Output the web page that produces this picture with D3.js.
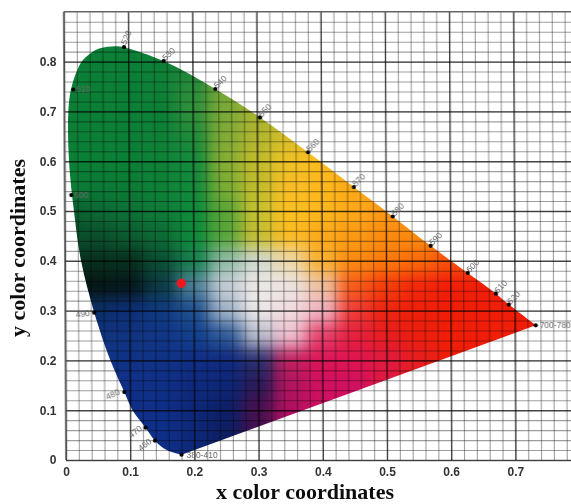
<!DOCTYPE html>
<html lang="en">
<head>
  <meta charset="UTF-8">
  <title>CIE chromaticity diagram</title>
  <style>
    html, body { margin: 0; padding: 0; background: #fff; overflow: hidden; }
    svg { display: block; }
    .tick-label text { font-family: "Liberation Sans", Arial, sans-serif; font-weight: bold; font-size: 12px; fill: #333; }
    .axis-title { font-family: "Liberation Serif", "Times New Roman", serif; font-weight: bold; font-size: 22px; fill: #111; }
    .wl-label { font-family: "Liberation Sans", Arial, sans-serif; font-size: 8.5px; fill: #666; }
    .grid .domain { display: none; }
  </style>
</head>
<body>
  <svg class="chart" width="571" height="504"></svg>
  <script src="https://cdn.jsdelivr.net/npm/d3@7"></script>
  <script>
    var w = 571, h = 504;

    var xTicks = [0, 0.1, 0.2, 0.3, 0.4, 0.5, 0.6, 0.7];
    var yTicks = [0, 0.1, 0.2, 0.3, 0.4, 0.5, 0.6, 0.7, 0.8];

    // spectrum locus outline
    var locusX = [0.180, 0.157, 0.1388, 0.1243, 0.104, 0.0914, 0.070, 0.0452, 0.025, 0.0143, 0.007, 0.0064, 0.0118, 0.0276, 0.0405, 0.0561, 0.0795, 0.0936, 0.1553, 0.2355, 0.3049, 0.3794, 0.4505, 0.5108, 0.5697, 0.6273, 0.671, 0.691, 0.7327];
    var locusY = [0.0106, 0.020, 0.0388, 0.0649, 0.100, 0.1365, 0.200, 0.2958, 0.400, 0.500, 0.600, 0.700, 0.750, 0.800, 0.816, 0.8267, 0.831, 0.829, 0.801, 0.745, 0.688, 0.618, 0.548, 0.489, 0.430, 0.3755, 0.334, 0.312, 0.2705];

    // wavelength markers
    var wlNames = ["380-410", "460", "470", "480", "490", "500", "510", "520", "530", "540", "550", "560", "570", "580", "590", "600", "610", "620", "700-780"];
    var wlX = [0.180, 0.1388, 0.1243, 0.0914, 0.0452, 0.0103, 0.0143, 0.0936, 0.1553, 0.2355, 0.3049, 0.3794, 0.4505, 0.5108, 0.5697, 0.6273, 0.671, 0.691, 0.7327];
    var wlY = [0.0106, 0.0388, 0.0649, 0.1365, 0.2958, 0.532, 0.744, 0.829, 0.801, 0.745, 0.688, 0.618, 0.548, 0.489, 0.430, 0.3755, 0.334, 0.312, 0.2705];

    // the red sample point
    var sampleX = [0.181];
    var sampleY = [0.3548];

    // colour field nodes, every 0.05 in x and y
    var fieldX = [0, 0.05, 0.1, 0.15, 0.2, 0.25, 0.3, 0.35, 0.4, 0.45, 0.5, 0.55, 0.6, 0.65, 0.7, 0.75];
    var fieldY = [0.85, 0.8, 0.75, 0.7, 0.65, 0.6, 0.55, 0.5, 0.45, 0.4, 0.35, 0.3, 0.25, 0.2, 0.15, 0.1, 0.05, 0];
    var G = "#0c7f36", Y = "#fdb81d", R = "#f01d08", B = "#0e2e88";
    var fieldColors = [
      [G, G, G, G, "#1a8038", "#76a838", "#a3b231", "#c5bd2a", "#eec126", Y, Y, Y, Y, Y, Y, Y],
      [G, G, G, G, "#1a8038", "#76a838", "#a3b231", "#c5bd2a", "#eec126", Y, Y, Y, Y, Y, Y, Y],
      [G, G, G, "#0e8137", "#288b3a", "#76a838", "#a3b231", "#b9b82e", "#eec126", Y, Y, Y, Y, Y, Y, Y],
      [G, G, G, G, "#30903a", "#7aa938", "#a3b231", "#b9b82e", "#dcbe29", Y, Y, Y, Y, Y, Y, Y],
      [G, G, G, "#0e8137", "#1f8a3a", "#80aa36", "#b0b52f", "#d8bd29", "#eec126", Y, Y, Y, Y, Y, Y, Y],
      [G, G, G, "#0e8137", "#148a3c", "#85ad34", "#c0bb2c", "#eec126", "#fcbb1f", Y, Y, Y, Y, Y, Y, Y],
      [G, "#0b7a35", "#0c7b35", "#0e8137", "#12893b", "#7aad35", "#c0bb2c", "#f8bd24", Y, "#fcaa18", "#fca516", "#fca516", "#fca516", "#fca516", "#fca516", "#fca516"],
      ["#0a5a2e", "#0c6a33", "#0d7236", "#0f7b38", "#0f8a3b", "#5aa538", "#c5c130", "#fcc021", "#fdb71c", "#fca81a", "#fb9a14", "#fb9a14", "#fb9a14", "#fb9a14", "#fb9a14", "#fb9a14"],
      ["#0a4f2c", "#0a4f2c", "#0b5c30", "#0c6b34", "#0e8a3a", "#56a53a", "#c3bd30", "#fbbb22", "#fca81a", "#fb9a14", "#fb8a10", "#fb8a10", "#fb7a0c", "#fb7a0c", "#fb7a0c", "#fb7a0c"],
      ["#07301e", "#07301e", "#06301e", "#094f33", "#17804f", "#8ebaa5", "#d0d8d0", "#ecd8a8", "#f8b030", "#fb8a10", "#fb7a0c", "#fa6a08", "#f8500a", "#f8500a", "#f8500a", "#f8500a"],
      ["#041512", "#041512", "#05161a", "#0b3a44", "#4d7f96", "#c4ccd6", "#ebe8e6", "#ebe4e2", "#eec0a0", "#f85a18", "#f43c0a", "#f3260a", R, R, R, R],
      ["#0a2f6a", "#0a2f6a", "#0c2f78", "#0f3a80", "#1f4f8f", "#9fb2c8", "#ebe8e8", "#f2dce0", "#f0b4c2", "#ee3c36", "#ee2410", "#ee200a", R, R, R, R],
      ["#10337f", "#10337f", "#10337f", "#113585", "#123f8c", "#2e5a98", "#b8bccd", "#efc0cf", "#e5406a", "#e5203f", "#e81e20", "#ec1e0e", R, R, R, R],
      ["#103286", "#103286", "#103286", "#103286", "#102e85", "#102a80", "#2a2f70", "#c02060", "#dc1458", "#df1550", "#e01a40", "#e81e20", R, R, R, R],
      [B, B, "#0f3086", "#0f2e86", "#0e2a7e", "#0e2676", "#2a1a58", "#b0155f", "#d01060", "#d01060", "#e01a40", "#e81e20", R, R, R, R],
      [B, B, B, B, "#0d2878", "#0d1f68", "#4a0f50", "#b01060", "#d01060", "#d01060", "#e01a40", "#e81e20", R, R, R, R],
      [B, B, B, B, "#0d2878", "#0e1e60", "#400f50", "#b01060", "#d01060", "#d01060", "#e01a40", "#e81e20", R, R, R, R],
      [B, B, B, B, "#0d2878", "#0e1e60", "#400f50", "#b01060", "#d01060", "#d01060", "#e01a40", "#e81e20", R, R, R, R]
    ];

    var x = d3.scaleLinear().domain([0, 0.8]).range([66, 579.6]);
    var y = d3.scaleLinear().domain([0, 0.9]).range([460, 11.8]);

    var svg = d3.select(".chart").attr("width", w).attr("height", h);

    var defs = svg.append("defs");
    defs.append("filter").attr("id", "field-blur")
      .attr("filterUnits", "userSpaceOnUse")
      .attr("x", -60).attr("y", -60).attr("width", w + 200).attr("height", h + 200)
      .attr("color-interpolation-filters", "sRGB")
      .append("feGaussianBlur").attr("stdDeviation", 8);
    defs.append("filter").attr("id", "soft")
      .attr("filterUnits", "userSpaceOnUse")
      .attr("x", -10).attr("y", -10).attr("width", w + 40).attr("height", h + 40)
      .append("feGaussianBlur").attr("stdDeviation", 0.45);

    var locus = d3.line()
      .x(function(d) { return x(d[0]); })
      .y(function(d) { return y(d[1]); })
      .curve(d3.curveCatmullRom.alpha(0.5));
    defs.append("clipPath").attr("id", "locus-clip")
      .append("path").attr("d", locus(d3.zip(locusX, locusY)) + "Z");

    // the scan leans very slightly, everything in the plot shares that lean
    var plot = svg.append("g").attr("transform", "matrix(1,0,0.005,1,-2.3,0)");

    // colour field, coarse cells blurred together and cut to the locus
    var cells = [];
    fieldColors.forEach(function(row, r) {
      row.forEach(function(c, i) { cells.push({ r: r, i: i, c: c }); });
    });
    plot.append("g").attr("clip-path", "url(#locus-clip)")
      .append("g").attr("filter", "url(#field-blur)")
      .selectAll("rect")
      .data(cells)
      .enter()
      .append("rect")
        .attr("x", function(d) { return x(fieldX[d.i] - (d.i == 0 ? 0.1 : 0.025)); })
        .attr("y", function(d) { return y(fieldY[d.r] + (d.r == 0 ? 0.1 : 0.025)); })
        .attr("width", function(d) {
          return x(fieldX[d.i] + (d.i == fieldX.length - 1 ? 0.1 : 0.025)) - x(fieldX[d.i] - (d.i == 0 ? 0.1 : 0.025)) + 0.5;
        })
        .attr("height", function(d) {
          return y(fieldY[d.r] - (d.r == fieldY.length - 1 ? 0.1 : 0.025)) - y(fieldY[d.r] + (d.r == 0 ? 0.1 : 0.025)) + 0.5;
        })
        .attr("fill", function(d) { return d.c; });

    // graph paper
    var xMinor = d3.range(0, 41).map(function(i) { return i / 50; });
    var yMinor = d3.range(0, 45).map(function(i) { return i / 50; });
    var gridH = y(0) - y(0.9);
    var gridW = x(0.8) - x(0);

    var grid = plot.append("g").attr("class", "grid").attr("filter", "url(#soft)");
    function drawGrid(xVals, yVals, color, width) {
      var gx = grid.append("g").attr("transform", "translate(0," + y(0) + ")")
        .call(d3.axisBottom(x).tickValues(xVals).tickSize(-gridH).tickFormat(""));
      var gy = grid.append("g").attr("transform", "translate(" + x(0) + ",0)")
        .call(d3.axisLeft(y).tickValues(yVals).tickSize(-gridW).tickFormat(""));
      [gx, gy].forEach(function(g) {
        g.selectAll(".tick line").attr("stroke", color).attr("stroke-width", width);
      });
    }
    drawGrid(xMinor, yMinor, "rgba(0,0,0,0.38)", 1.1);
    drawGrid(xTicks, yTicks, "rgba(0,0,0,0.62)", 1.4);
    grid.append("line")
      .attr("x1", x(0)).attr("x2", x(0.8)).attr("y1", y(0.9)).attr("y2", y(0.9))
      .attr("stroke", "#666").attr("stroke-width", 1.4);
    grid.append("line")
      .attr("x1", x(0)).attr("x2", x(0)).attr("y1", y(0.9)).attr("y2", y(0))
      .attr("stroke", "#555").attr("stroke-width", 1.4);

    // wavelength dots and their little labels
    function labelPlace(name) {
      if (name == "380-410") return { dx: 5, dy: 3, rot: 0, anchor: "start" };
      if (name == "700-780") return { dx: 4, dy: 3, rot: 0, anchor: "start" };
      if (name == "500" || name == "510") return { dx: 3, dy: 3, rot: 0, anchor: "start" };
      if (name == "490") return { dx: -4, dy: 3, rot: -8, anchor: "end" };
      if (name == "480") return { dx: -4, dy: 2, rot: -25, anchor: "end" };
      if (name == "470" || name == "460") return { dx: -3, dy: 2, rot: -38, anchor: "end" };
      if (name == "520") return { dx: 2, dy: -2, rot: -65, anchor: "start" };
      return { dx: 2, dy: 0, rot: -45, anchor: "start" };
    }
    var wl = d3.zip(wlNames, wlX, wlY);
    var wlLayer = plot.append("g").attr("filter", "url(#soft)");
    wlLayer.selectAll("circle")
      .data(wl)
      .enter()
      .append("circle")
        .attr("cx", function(d) { return x(d[1]); })
        .attr("cy", function(d) { return y(d[2]); })
        .attr("r", 2.1)
        .attr("fill", "#000");
    wlLayer.selectAll("text")
      .data(wl)
      .enter()
      .append("text")
        .attr("class", "wl-label")
        .attr("text-anchor", function(d) { return labelPlace(d[0]).anchor; })
        .attr("transform", function(d) {
          var p = labelPlace(d[0]);
          return "translate(" + (x(d[1]) + p.dx) + "," + (y(d[2]) + p.dy) + ") rotate(" + p.rot + ")";
        })
        .text(function(d) { return d[0]; });

    plot.selectAll("circle.sample")
      .data(d3.zip(sampleX, sampleY))
      .enter()
      .append("circle")
        .attr("class", "sample")
        .attr("cx", function(d) { return x(d[0]); })
        .attr("cy", function(d) { return y(d[1]); })
        .attr("r", 4.6)
        .attr("fill", "#f5141e");

    // tick labels and titles stay upright, outside the lean
    var labels = svg.append("g").attr("filter", "url(#soft)");
    var xl = labels.append("g").attr("class", "tick-label")
      .attr("transform", "translate(0,467)")
      .call(d3.axisBottom(x).tickValues(xTicks).tickSize(0).tickPadding(0)
        .tickFormat(function(d) { return d === 0 ? "0" : d3.format(".1f")(d); }));
    xl.select(".domain").remove();
    var yl = labels.append("g").attr("class", "tick-label")
      .attr("transform", "translate(56.5,0)")
      .call(d3.axisLeft(y).tickValues(yTicks).tickSize(0).tickPadding(0)
        .tickFormat(function(d) { return d === 0 ? "0" : d3.format(".1f")(d); }));
    yl.select(".domain").remove();

    labels.append("text")
      .attr("class", "axis-title")
      .attr("x", 305).attr("y", 499)
      .attr("text-anchor", "middle")
      .text("x color coordinates");
    labels.append("text")
      .attr("class", "axis-title")
      .attr("transform", "translate(25,248) rotate(-90)")
      .attr("text-anchor", "middle")
      .text("y color coordinates");
  </script>
</body>
</html>
